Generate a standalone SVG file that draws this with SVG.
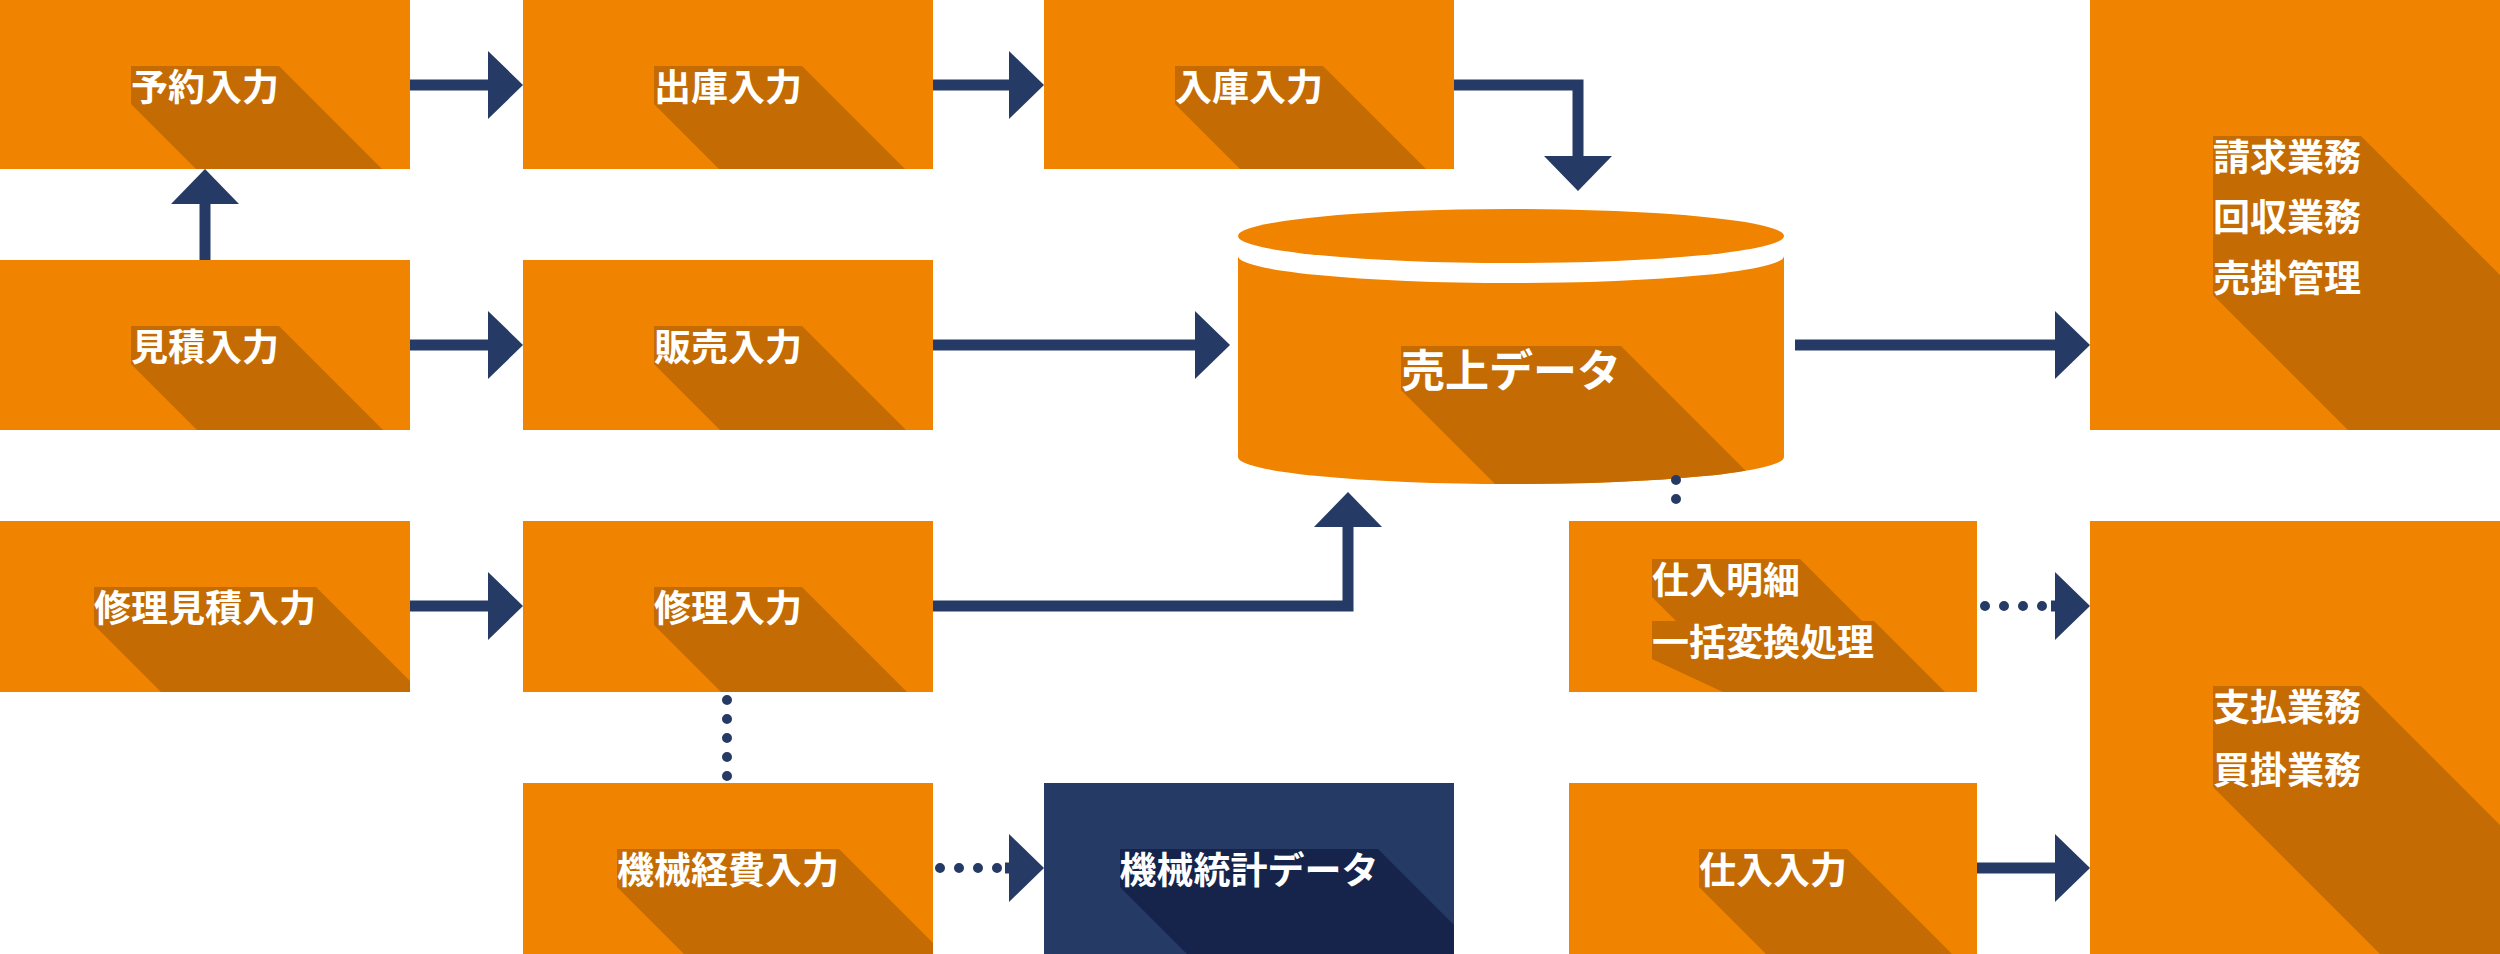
<svg xmlns="http://www.w3.org/2000/svg" width="2500" height="954" viewBox="0 0 2500 954">
<style>
.b{fill:#f08300}.s{fill:#c46c03}.nb{fill:#263a66}.ns{fill:#16234a}
.t{font-family:"Noto Sans CJK JP","Noto Sans",sans-serif;font-weight:bold;font-size:37px;fill:#fff;dominant-baseline:central}
.c{text-anchor:middle}
.ln{stroke:#263a66;stroke-width:11;fill:none}
.dt{stroke:#263a66;stroke-width:10;fill:none;stroke-linecap:round;stroke-dasharray:0 19}
</style>
<defs>
<marker id="ah" viewBox="0 0 35 68" refX="0" refY="34" markerWidth="35" markerHeight="68" markerUnits="userSpaceOnUse" orient="auto"><path d="M0,0L35,34L0,68Z" fill="#263a66"/></marker>
<clipPath id="c1"><rect x="0" y="0" width="410" height="954"/></clipPath>
<clipPath id="c2"><rect x="523" y="0" width="410" height="954"/></clipPath>
<clipPath id="c3"><rect x="1044" y="0" width="410" height="954"/></clipPath>
<clipPath id="c4"><rect x="1569" y="0" width="408" height="954"/></clipPath>
<clipPath id="c5"><rect x="2090" y="0" width="410" height="954"/></clipPath>
<clipPath id="cy"><path d="M1238,256A273,27 0 0 0 1784,256L1784,457A273,27 0 0 1 1238,457Z"/></clipPath>
</defs>
<g id="yoyaku"><rect class="b" x="0" y="0" width="410" height="169"/><polygon class="s" clip-path="url(#c1)" points="131,66 279,66 382,169 196,169 131,104"/><text class="t c" x="205" y="85">予約入力</text></g>
<g id="shukko"><rect class="b" x="523" y="0" width="410" height="169"/><polygon class="s" clip-path="url(#c2)" points="654,66 802,66 905,169 719,169 654,104"/><text class="t c" x="728" y="85">出庫入力</text></g>
<g id="nyuko"><rect class="b" x="1044" y="0" width="410" height="169"/><polygon class="s" clip-path="url(#c3)" points="1175,66 1323,66 1426,169 1240,169 1175,104"/><text class="t c" x="1249" y="85">入庫入力</text></g>
<g id="mitsumori"><rect class="b" x="0" y="260" width="410" height="170"/><polygon class="s" clip-path="url(#c1)" points="131,326 279,326 383,430 197,430 131,364"/><text class="t c" x="205" y="345">見積入力</text></g>
<g id="hanbai"><rect class="b" x="523" y="260" width="410" height="170"/><polygon class="s" clip-path="url(#c2)" points="654,326 802,326 906,430 720,430 654,364"/><text class="t c" x="728" y="345">販売入力</text></g>
<g id="shurimitsumori"><rect class="b" x="0" y="521" width="410" height="171"/><polygon class="s" clip-path="url(#c1)" points="94,587 316,587 421,692 161,692 94,625"/><text class="t c" x="205" y="606">修理見積入力</text></g>
<g id="shuri"><rect class="b" x="523" y="521" width="410" height="171"/><polygon class="s" clip-path="url(#c2)" points="654,587 802,587 907,692 721,692 654,625"/><text class="t c" x="728" y="606">修理入力</text></g>
<g id="kikaikeihi"><rect class="b" x="523" y="783" width="410" height="171"/><polygon class="s" clip-path="url(#c2)" points="617,849 839,849 944,954 684,954 617,887"/><text class="t c" x="728" y="868">機械経費入力</text></g>
<g id="kikaitokei"><rect class="nb" x="1044" y="783" width="410" height="171"/><polygon class="ns" clip-path="url(#c3)" points="1120,849 1378,849 1483,954 1187,954 1120,887"/><text class="t c" x="1249" y="868">機械統計データ</text></g>
<g id="uriage"><ellipse class="b" cx="1511" cy="236" rx="273" ry="27"/><path class="b" d="M1238,256A273,27 0 0 0 1784,256L1784,457A273,27 0 0 1 1238,457Z"/><polygon class="s" clip-path="url(#cy)" points="1401,346 1621,346 1759,484 1495,484 1401,390"/><text class="t c" x="1511" y="368" style="font-size:44px">売上データ</text></g>
<g id="shiiremeisai"><rect class="b" x="1569" y="521" width="408" height="171"/><g class="s" clip-path="url(#c4)"><polygon points="1652,559 1800,559 1933,692 1747,692 1652,597"/><polygon points="1652,621 1874,621 1945,692 1723,692 1652,659"/></g><text class="t" x="1652" y="578">仕入明細</text><text class="t" x="1652" y="640">一括変換処理</text></g>
<g id="shiire"><rect class="b" x="1569" y="783" width="408" height="171"/><polygon class="s" clip-path="url(#c4)" points="1699,849 1847,849 1952,954 1766,954 1699,887"/><text class="t c" x="1773" y="868">仕入入力</text></g>
<g id="seikyu"><rect class="b" x="2090" y="0" width="410" height="430"/><polygon class="s" clip-path="url(#c5)" points="2213,136 2361,136 2655,430 2348,430 2213,295"/><text class="t" x="2213" y="155">請求業務</text><text class="t" x="2213" y="215">回収業務</text><text class="t" x="2213" y="276">売掛管理</text></g>
<g id="shiharai"><rect class="b" x="2090" y="521" width="410" height="433"/><polygon class="s" clip-path="url(#c5)" points="2213,686 2361,686 2629,954 2380,954 2213,787"/><text class="t" x="2213" y="705">支払業務</text><text class="t" x="2213" y="768">買掛業務</text></g>
<g id="connectors">
<path class="ln" marker-end="url(#ah)" d="M410,85H488"/>
<path class="ln" marker-end="url(#ah)" d="M933,85H1009"/>
<path class="ln" marker-end="url(#ah)" d="M1454,85H1578V156"/>
<path class="ln" marker-end="url(#ah)" d="M205,260V204"/>
<path class="ln" marker-end="url(#ah)" d="M410,345H488"/>
<path class="ln" marker-end="url(#ah)" d="M933,345H1195"/>
<path class="ln" marker-end="url(#ah)" d="M1795,345H2055"/>
<path class="ln" marker-end="url(#ah)" d="M410,606H488"/>
<path class="ln" marker-end="url(#ah)" d="M933,606H1348V527"/>
<path class="dt" d="M727,700V780"/>
<path class="dt" d="M940,868H1009"/>
<path class="ln" marker-end="url(#ah)" d="M1005,868H1009"/>
<path class="dt" d="M1676,480V518"/>
<path class="dt" d="M1985,606H2055"/>
<path class="ln" marker-end="url(#ah)" d="M2051,606H2055"/>
<path class="ln" marker-end="url(#ah)" d="M1977,868H2055"/>
</g>
</svg>
